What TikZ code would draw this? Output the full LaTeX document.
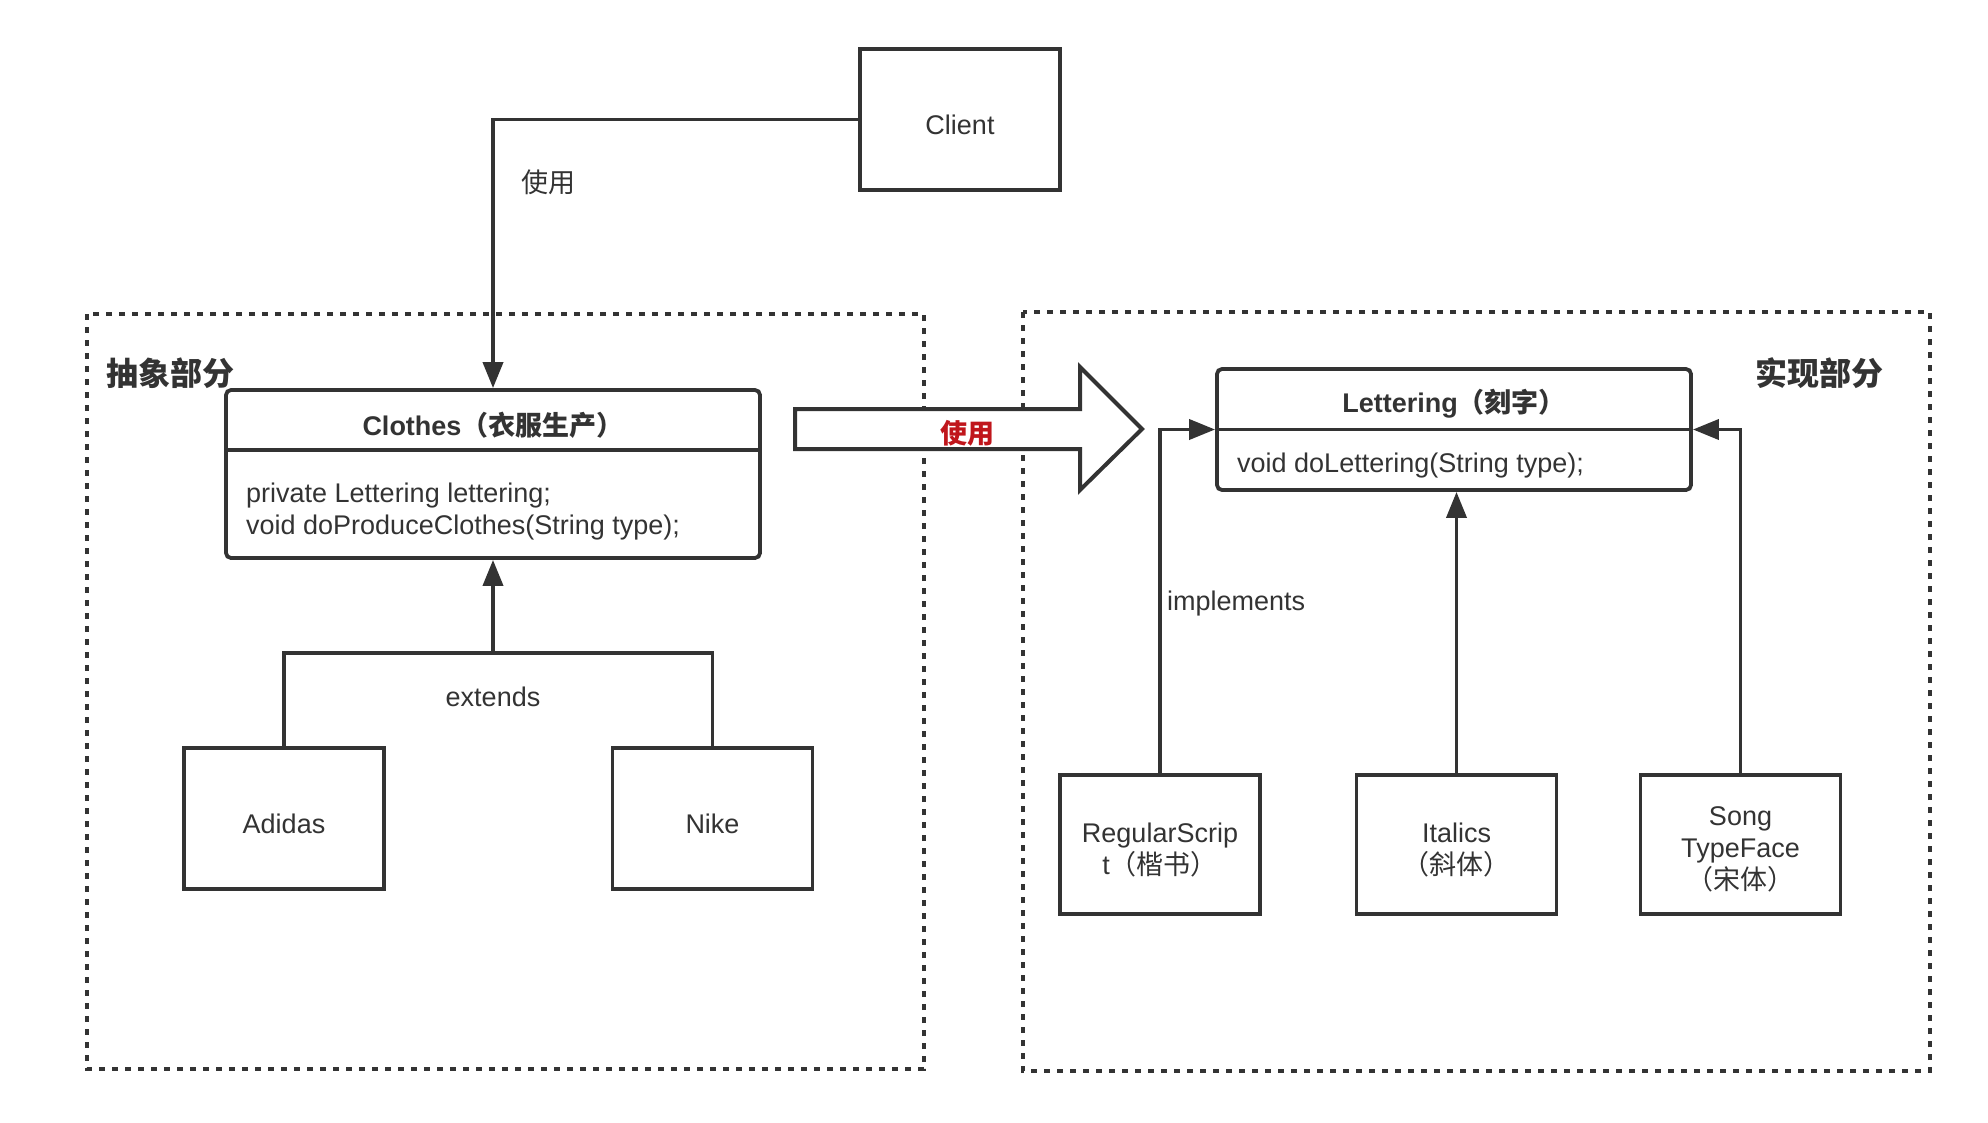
\documentclass[tikz,border=0pt]{standalone}
\usepackage{fontspec}
\setmainfont{Liberation Sans}
\newfontfamily\cjk{Noto Sans CJK SC}
\usetikzlibrary{arrows.meta}

\definecolor{linegray}{HTML}{333333}
\definecolor{usered}{HTML}{C0161C}

\tikzset{
  txt/.style={text=linegray, inner sep=0pt, font=\fontsize{27}{32}\selectfont},
  boxtext/.style={txt, align=center, yshift=-5pt},
  box/.style={draw=linegray, line width=3.8pt, minimum width=200pt,
    minimum height=140pt, inner sep=0pt, label={[boxtext]center:#1}},
  classbox/.style={draw=linegray, line width=3.8pt, rounded corners=5pt,
    inner sep=0pt},
  part/.style={draw=linegray, line width=4pt, dash pattern=on 6pt off 7pt},
  wire/.style={draw=linegray, line width=3.8pt},
  link/.style={wire, -{Triangle[length=26pt,width=20pt]}}
}

\begin{document}
\begin{tikzpicture}[x=1pt,y=-1pt]
\useasboundingbox (0,0) rectangle (1988,1122);

% Parts
\draw[part] (87,314) rectangle (924,1069);
\draw[part] (1023,312) rectangle (1930,1071);
\node[txt, anchor=west, font=\fontsize{32}{36}\selectfont\cjk\bfseries] (abstract) at (106,373) {抽象部分};
\node[txt, anchor=west, font=\fontsize{32}{36}\selectfont\cjk\bfseries] (impl) at (1755,373) {实现部分};

% Client
\node[box={Client}, minimum height=141pt] (client) at (960,119.5) {};

% Clothes
\node[classbox, minimum width=534pt, minimum height=168pt] (clothes) at (493,474) {};
\draw[wire] (clothes.west |- 0,450) -- (clothes.east |- 0,450);
\node[txt, font=\fontsize{27}{32}\selectfont\bfseries] (clothestitle) at (493,425) {Clothes{\cjk（衣服生产）}};
\node[txt, anchor=west, align=left] (clothesbody) at (246,512)
  {private Lettering lettering;\\void doProduceClothes(String type);};

% Lettering
\node[classbox, minimum width=474pt, minimum height=121pt] (lettering) at (1454,429.5) {};
\draw[wire] (lettering.west) -- (lettering.east);
\node[txt, font=\fontsize{27}{32}\selectfont\bfseries] (letteringtitle) at (1454,404) {Lettering{\cjk（刻字）}};
\node[txt, anchor=west] (letteringbody) at (1237,466) {void doLettering(String type);};

% Brands
\node[box={Adidas}, minimum height=141pt] (adidas) at (284,818.5) {};
\node[box={Nike}, minimum height=141pt] (nike) at (712.5,818.5) {};

% Typefaces
\node[box={RegularScrip\\t{\cjk（楷书）}}, minimum height=139pt] (regular) at (1160,844.5) {};
\node[box={Italics\\{\cjk（斜体）}}, minimum height=139pt] (italics) at (1456.5,844.5) {};
\node[box={Song\\TypeFace\\{\cjk（宋体）}}, minimum height=139pt] (song) at (1740.5,844.5) {};

% Connectors
\draw[link] (client.west) -| (clothes.north);
\node[txt, font=\fontsize{27}{32}\selectfont\cjk] (uselabel) at (548,182) {使用};

\coordinate (fork) at (493,653);
\draw[wire] (adidas.north) |- (fork) -| (nike.north);
\draw[link] (fork) -- (clothes.south);
\node[txt] (extends) at (493,697) {extends};

\draw[link] (regular.north) |- (lettering.west);
\draw[link] (italics.north) -- (italics.north |- lettering.south);
\draw[link] (song.north) |- (lettering.east);
\node[txt, anchor=west] (implements) at (1167,604) {implements};

% Big arrow
\draw[wire, line width=4pt, fill=white]
  (795,409) -- (1080,409) -- (1080,367) -- (1142,429) -- (1080,490)
  -- (1080,449) -- (795,449) -- cycle;
\node[txt, text=usered, font=\fontsize{27}{32}\selectfont\cjk\bfseries] (usearrow) at (967,433) {使用};

\end{tikzpicture}
\end{document}
